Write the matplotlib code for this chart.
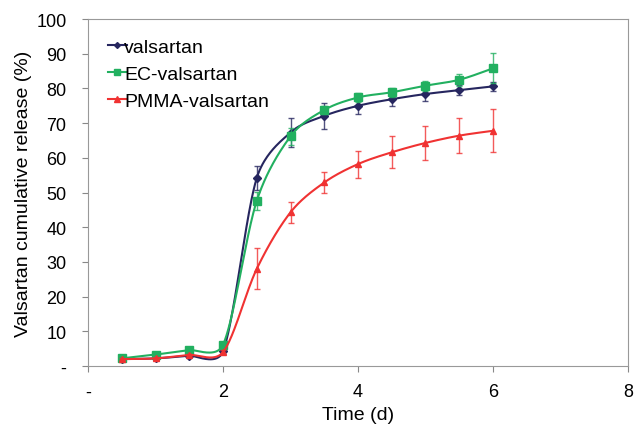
import numpy as np
import matplotlib
matplotlib.use("Agg")
import matplotlib.pyplot as plt

plt.rcParams['font.family'] = ['Liberation Sans', 'DejaVu Sans']

# time points (d)
time = [0.5, 1, 1.5, 2, 2.5, 3, 3.5, 4, 4.5, 5, 5.5, 6]

# cumulative release (%) and standard deviations
valsartan = [2.0, 2.2, 3.0, 4.2, 54.2, 67.3, 72.1, 75.0, 76.9, 78.4, 79.5, 80.6]
valsartan_err = [0.3, 0.4, 0.5, 0.6, 3.4, 4.2, 3.7, 2.5, 2.1, 1.9, 1.4, 1.3]
ec = [2.2, 3.3, 4.6, 6.1, 47.6, 66.2, 73.8, 77.4, 78.9, 80.8, 82.5, 85.8]
ec_err = [0.3, 0.4, 0.6, 0.8, 2.6, 2.4, 1.2, 1.2, 1.3, 1.4, 1.8, 4.3]
pmma = [2.0, 2.2, 3.2, 4.0, 28.0, 44.3, 52.9, 58.2, 61.6, 64.3, 66.4, 67.8]
pmma_err = [0.3, 0.3, 0.4, 0.5, 5.9, 3.1, 3.1, 3.9, 4.6, 4.9, 5.1, 6.2]

labels = ["valsartan", "EC-valsartan", "PMMA-valsartan"]
colors = ["#26265f", "#22b060", "#f03232"]
markers = ["D", "s", "^"]
msizes = [4, 6, 5]


# smoothed line through the points, spreadsheet style (bezier, control
# arms shortened when they are long compared with the segment)
def smooth(x, y, sx=67.5, sy=3.47, n=40, clamp=0.65):
    P = np.column_stack([np.asarray(x, float) * sx, np.asarray(y, float) * sy])
    m = len(P)
    tang = np.zeros_like(P)
    for i in range(m):
        a = P[max(i - 1, 0)]
        b = P[min(i + 1, m - 1)]
        tang[i] = (b - a) / 6
    xs, ys = [], []
    t = np.linspace(0, 1, n)[:, None]
    for i in range(m - 1):
        b0, b3 = P[i], P[i + 1]
        o1, o2 = tang[i].copy(), tang[i + 1].copy()
        L = np.hypot(*(b3 - b0)) * clamp
        s = np.hypot(*o1) + np.hypot(*o2)
        if s > L:
            o1 *= L / s
            o2 *= L / s
        b1, b2 = b0 + o1, b3 - o2
        pts = (1 - t) ** 3 * b0 + 3 * (1 - t) ** 2 * t * b1 + 3 * (1 - t) * t ** 2 * b2 + t ** 3 * b3
        xs.extend(pts[:, 0] / sx)
        ys.extend(pts[:, 1] / sy)
    return xs, ys


fig = plt.figure(figsize=(6.36, 4.27), dpi=100)
ax = fig.add_axes([0.1384, 0.1405, 0.849, 0.8125])

series = [(valsartan, valsartan_err), (ec, ec_err), (pmma, pmma_err)]
for (vals, errs), lab, c, m, ms in zip(series, labels, colors, markers, msizes):
    sx, sy = smooth(time, vals)
    ax.plot(sx, sy, color=c, lw=1.5)
    ax.errorbar(time, vals, yerr=errs, fmt="none", ecolor=c, elinewidth=1,
                capsize=2, capthick=1, alpha=0.8)
    ax.plot(time, vals, ls="none", marker=m, ms=ms, color=c)
    ax.plot([], [], color=c, lw=1.5, marker=m, ms=ms - 1, label=lab)

ax.set_xlim(0, 8)
ax.set_ylim(0, 100)
ax.set_xticks([0, 2, 4, 6, 8])
ax.set_xticklabels(["-", "2", "4", "6", "8"])
ax.set_yticks(range(0, 101, 10))
ax.set_yticklabels(["-"] + [str(v) for v in range(10, 101, 10)])
ax.tick_params(labelsize=13, direction="out", length=4.5, color="#888888")
ax.tick_params(axis="y", pad=11)
ax.tick_params(axis="x", pad=8)
for s in ax.spines.values():
    s.set_color("#999999")

ax.set_xlabel("Time (d)", fontsize=14, labelpad=4)
ax.set_ylabel("Valsartan cumulative release (%)", fontsize=14, labelpad=3)

ax.legend(loc="upper left", frameon=False, fontsize=14, handlelength=1.0,
          handletextpad=-0.15, labelspacing=0.5, borderaxespad=0.0,
          bbox_to_anchor=(0.022, 0.968))

fig.savefig("out.png", dpi=100)
